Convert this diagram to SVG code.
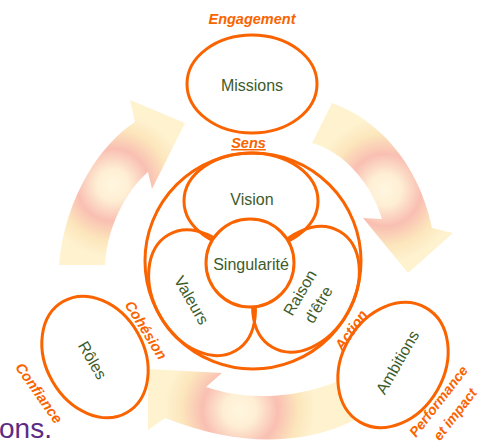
<svg xmlns="http://www.w3.org/2000/svg" width="492" height="446" viewBox="0 0 492 446">
<defs>
<radialGradient id="gL" gradientUnits="userSpaceOnUse" cx="113" cy="185" r="72">
<stop offset="0" stop-color="#FFF6E0"/><stop offset="0.22" stop-color="#FEEFD4"/><stop offset="0.5" stop-color="#F9BFB2"/><stop offset="0.78" stop-color="#FCE6BC"/><stop offset="1" stop-color="#FEF2CF"/>
</radialGradient>
<radialGradient id="gR" gradientUnits="userSpaceOnUse" cx="385" cy="190" r="72">
<stop offset="0" stop-color="#FFF6E0"/><stop offset="0.22" stop-color="#FEEFD4"/><stop offset="0.5" stop-color="#F9BFB2"/><stop offset="0.78" stop-color="#FCE6BC"/><stop offset="1" stop-color="#FEF2CF"/>
</radialGradient>
<radialGradient id="gB" gradientUnits="userSpaceOnUse" cx="240" cy="410" r="75">
<stop offset="0" stop-color="#FFF6E0"/><stop offset="0.22" stop-color="#FEEFD4"/><stop offset="0.5" stop-color="#F9BFB2"/><stop offset="0.78" stop-color="#FCE6BC"/><stop offset="1" stop-color="#FEF2CF"/>
</radialGradient>
<style>
.o{fill:#fff;stroke:#FA6400;stroke-width:3}
.n{fill:none;stroke:#FA6400;stroke-width:3}
.t{font-family:"Liberation Sans",Arial,sans-serif;font-size:16px;fill:#3E5B2B;text-anchor:middle}
.l{font-family:"Liberation Sans",Arial,sans-serif;font-size:14.5px;font-weight:bold;font-style:italic;fill:#FA6400;text-anchor:middle}
</style>
</defs>
<rect width="492" height="446" fill="#fff"/>
<g id="connectors">
<path d="M59,265 L105,265 C107,228 125,192 148,172 L152,189 L185,123 L130,100 L135,122 C103,142 65,195 59,265 Z" fill="url(#gL)"/>
<path d="M332,103 C375,118 418,160 432,228 L453,233 L408,273 L363,218 L382,219 C372,185 345,152 312,143 Z" fill="url(#gR)"/>
<path d="M148,369 L222,373 L206,387 C250,402 310,400 365,368 L380,405 C330,440 260,455 165,418 L148,430 Z" fill="url(#gB)"/>
</g>
<g id="missions">
<ellipse class="o" cx="252" cy="84" rx="65" ry="49"/>
<text class="t" x="252" y="91">Missions</text>
</g>
<g id="sens">
<circle class="o" cx="253" cy="261" r="108"/>
</g>
<g id="vision">
<ellipse class="n" cx="251" cy="201" rx="67" ry="48"/>
<text class="t" x="252" y="205">Vision</text>
</g>
<g id="valeurs">
<ellipse class="n" cx="251" cy="201" rx="67" ry="48" transform="rotate(-120 253 261)"/>
<text class="t" transform="translate(192 300) rotate(60)" y="6">Valeurs</text>
</g>
<g id="raison">
<ellipse class="n" cx="251" cy="201" rx="67" ry="48" transform="rotate(120 253 261)"/>
<g transform="translate(309 298) rotate(-60)">
<text class="t" x="0" y="-5">Raison</text>
<text class="t" x="-1" y="17">d'être</text>
</g>
</g>
<g id="singularite">
<circle class="o" cx="250" cy="263" r="44"/>
<text class="t" x="251" y="270">Singularité</text>
</g>
<g id="roles">
<ellipse class="o" cx="95" cy="357" rx="64" ry="49" transform="rotate(60 95 357)"/>
<text class="t" transform="translate(93 360) rotate(60)" y="6">Rôles</text>
</g>
<g id="ambitions">
<ellipse class="o" cx="393" cy="365" rx="66" ry="51" transform="rotate(-60 393 365)"/>
<text class="t" transform="translate(397 362) rotate(-60)" y="6">Ambitions</text>
</g>
<g id="labels">
<text class="l" x="252" y="23.5">Engagement</text>
<text class="l" x="248.5" y="148" text-decoration="underline">Sens</text>
<text class="l" transform="translate(146 330) rotate(58)" y="5">Cohésion</text>
<text class="l" transform="translate(39 393) rotate(55)" y="5">Confiance</text>
<text class="l" transform="translate(351 330) rotate(-55)" y="5">Action</text>
<g transform="translate(447 408) rotate(-52)" font-size="14">
<text class="l" x="0" y="-6" style="font-size:14px">Performance</text>
<text class="l" x="0" y="15" style="font-size:14px">et impact</text>
</g>
</g>
<text x="-1" y="438" font-family="'Liberation Sans',Arial,sans-serif" font-size="28" fill="#5E2B84">ons.</text>
</svg>
